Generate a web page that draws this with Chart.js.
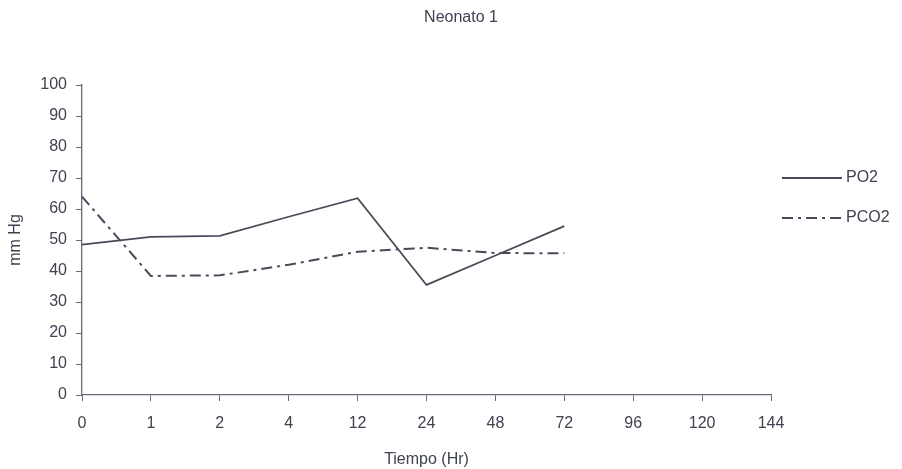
<!DOCTYPE html>
<html>
<head>
<meta charset="utf-8">
<script src="https://cdn.jsdelivr.net/npm/chart.js@4/dist/chart.umd.min.js"></script>
<style>
  html, body { margin: 0; padding: 0; background: #fff; }
  #wrap { position: relative; width: 902px; height: 469px; }
</style>
</head>
<body>
<div id="wrap"><canvas id="chart"></canvas></div>
<script>
// Datos (mm Hg por hora)
const categories = ['0', '1', '2', '4', '12', '24', '48', '72', '96', '120', '144'];
const po2Values  = [48.5, 51, 51.3, 57.5, 63.5, 35.5, 45, 54.5];
const pco2Values = [64, 38.4, 38.6, 42, 46.2, 47.5, 45.8, 45.7];
const yTicks     = [0, 10, 20, 30, 40, 50, 60, 70, 80, 90, 100];
const chartTitle = 'Neonato 1';

const INK  = '#474b58';
const AXIS = '#666b7a';
const TEXT = '#3f4250';
const FONT = { family: '"Liberation Sans", Arial, sans-serif', size: 16 };

// Título centrado sobre todo el lienzo y leyenda a la derecha con muestra de línea
const titleAndLegend = {
  id: 'titleAndLegend',
  afterDraw(chart) {
    const ctx = chart.ctx;
    ctx.save();
    ctx.fillStyle = TEXT;
    ctx.font = `${FONT.size}px ${FONT.family}`;
    ctx.textAlign = 'center';
    ctx.textBaseline = 'middle';
    ctx.fillText(chartTitle, 461, 18);
    ctx.restore();

    const x1 = chart.chartArea.right + 11;
    const x2 = x1 + 60;
    let y = 178;
    chart.data.datasets.forEach((ds) => {
      ctx.save();
      ctx.strokeStyle = ds.borderColor;
      ctx.lineWidth = ds.borderWidth;
      ctx.setLineDash(ds.borderDash || []);
      ctx.beginPath();
      ctx.moveTo(x1, y);
      ctx.lineTo(x2, y);
      ctx.stroke();
      ctx.setLineDash([]);
      ctx.fillStyle = TEXT;
      ctx.font = `${FONT.size}px ${FONT.family}`;
      ctx.textAlign = 'left';
      ctx.textBaseline = 'middle';
      ctx.fillText(ds.label, x2 + 4, y);
      ctx.restore();
      y += 40;
    });
  },
};

new Chart(document.getElementById('chart'), {
  type: 'line',
  data: {
    labels: categories,
    datasets: [
      {
        label:       'PO2',
        data:        po2Values,
        borderColor: INK,
        borderWidth: 1.8,
        pointRadius: 0,
        tension:     0,
      },
      {
        label:       'PCO2',
        data:        pco2Values,
        borderColor: INK,
        borderWidth: 2,
        borderDash:  [11, 5, 3, 5],
        pointRadius: 0,
        tension:     0,
      },
    ],
  },
  options: {
    responsive:          true,
    maintainAspectRatio: false,
    animation:           false,
    layout: { padding: { left: 0, right: 131, top: 85, bottom: 0 } },
    plugins: {
      legend:  { display: false },
      tooltip: { enabled: false },
      title:   { display: false },
    },
    scales: {
      x: {
        type:   'category',
        offset: false,
        border: { display: true, color: AXIS, width: 1.3 },
        grid: {
          drawOnChartArea: false,
          drawTicks:       true,
          tickLength:      6,
          color:           AXIS,
        },
        ticks: { color: TEXT, font: FONT, padding: 13, maxRotation: 0, autoSkip: false },
        title: {
          display: true,
          text:    'Tiempo (Hr)',
          color:   TEXT,
          font:    FONT,
          padding: { top: 0, bottom: 0 },
        },
        afterFit: (scale) => { scale.height = 74; },
      },
      y: {
        min: 0,
        max: 100,
        border: { display: true, color: AXIS, width: 1.3 },
        grid: {
          drawOnChartArea: false,
          drawTicks:       true,
          tickLength:      6,
          color:           AXIS,
        },
        afterBuildTicks: (scale) => { scale.ticks = yTicks.map((v) => ({ value: v })); },
        ticks: { color: TEXT, font: FONT, padding: 9 },
        title: {
          display: true,
          text:    'mm Hg',
          color:   TEXT,
          font:    FONT,
          padding: { top: 6, bottom: 0 },
        },
        afterFit: (scale) => { scale.width = 82; },
      },
    },
  },
  plugins: [titleAndLegend],
});
</script>
</body>
</html>
